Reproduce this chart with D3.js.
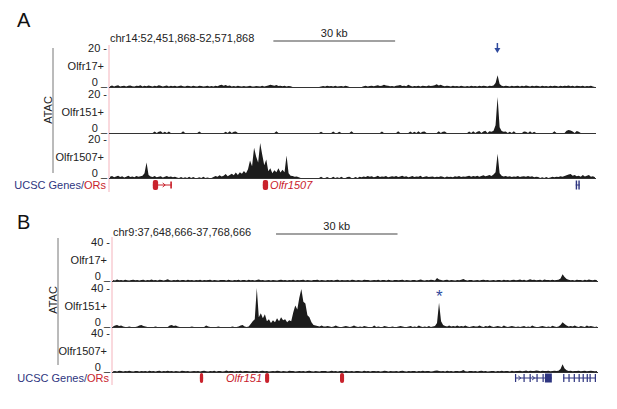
<!DOCTYPE html>
<html>
  <head>
    <meta charset="utf-8">
    <title></title>
  </head>
  <style>
    body{
      margin: 0;
      background-color: #fff;
      font-family: "Liberation Sans", Arial, sans-serif;
    }
    svg { display: block }
    .lbl { font-size: 11px; fill: #222 }
    .axisline { stroke: #333; stroke-width: 1 }
    .signal { fill: #1c1c1c }
  </style>
  <script src="https://d3js.org/d3.v7.min.js"></script>
  <body>
    <script>
    // ---- data: ATAC signal in 0.5 kb bins over a 120 kb window (one row = 10 kb) ----
    const trackNames = ["Olfr17+", "Olfr151+", "Olfr1507+"]

    const aOlfr17 = [
      0.4,0.8,0.3,0.6,0.9,0.2,0.5,0.7,0.3,0.6,0.8,0.4,0.2,0.7,0.5,0.9,0.3,0.6,0.4,0.8,
      0.5,0.3,0.7,0.4,0.9,0.6,0.2,0.5,0.8,0.3,0.6,0.4,0.7,0.3,0.5,0.8,0.4,0.2,0.6,0.5,
      0.3,0.7,0.4,0.2,0.6,0.5,0.3,0.4,0.7,0.2,0.5,0.3,0.6,0.4,0.9,1.2,0.7,1.0,0.5,0.8,
      0.3,0.5,0.2,0.6,0.4,0.3,0.5,0.2,0.4,0.6,0.3,0.2,0.5,0.4,0.3,0.6,0.2,0.5,0.8,1.2,
      0.9,0.6,1.0,0.5,0.7,0.4,0.6,0.3,0.5,0.4,0,0,0,0,0,0,0,0,0,0,
      0,0,0,0,0.3,0.5,0.2,0.6,0.4,0.5,0.3,0.6,0.2,0.4,0.5,0.3,0.6,0.4,0,0,
      0,0,0,0,0,0.4,0.6,0.3,0.5,0.7,0.4,0.6,0.9,0.5,0.7,1.2,0.8,0.6,0.4,0.5,
      0.3,0.6,0.8,1.0,0.5,0.7,0.4,1.1,0.6,0.3,0.5,0.4,0.7,0.3,0.6,0.5,0.4,0.8,0.5,0.6,
      0.9,1.4,0.8,1.2,0.6,0.4,0.7,0.5,0.3,0.6,0.4,0.5,0.3,0.6,0.4,0.2,0.5,0.3,0.6,0.4,
      0.5,0.3,0.6,0.4,0.7,0.5,0.3,0.6,0.5,0.8,2.0,6.0,1.5,0.6,0.4,0.7,0.5,0.3,0.6,0.4,
      0.5,0.7,0.3,0.6,0.4,0.8,0.5,0.3,0.6,0.4,0.7,0.5,0.3,0.6,0.4,0.5,0.3,0.7,0.4,0.6,
      0.5,0.3,0.6,0.4,0.7,0.5,0.8,0.4,0.6,0.3,0.7,0.5,0.4,0.6,0.3,0.5,0.4,0.6,0.3,0
    ]
    const aOlfr151 = [
      0,0,0,0,0,0,0,0,0,0,0,0,0,0,0,0,0,0,0,0,
      0,0,0.8,0,0.6,0.9,0,0.7,0,0.8,0,0,0,0,0,0,0.9,0,0,0,
      0,0,0,0,0.8,0,0,0,0,0,0,0,0,0,0,0,0,0.7,0,0.9,
      0,0.6,0.8,0,0,0,0,0,0,0,0,0,0,0,0,0,0,0,0,0,
      0,0,0.9,0,0,0,0,0,0,0,0,0,0,0,0,0,0,0,0,0,
      0,0,0,0,0.7,0,0,0,0,0,0.8,0,0,0.7,0,0,0,0,0,0.9,
      0,0,0,0,0,0,0,0,0,0,0,0,0,0,0.8,0,0,0,0,0,
      0,0,0.9,0,0,0,0,0,0.8,0,0.6,0,0.9,0,0.7,0.8,0,0,0,0,
      0,0,0.9,0,0.7,0.8,0,0,0,0,0,0,0,0,0,0,0,0.8,0,0.9,
      0,0.7,1.0,0,0.8,1.2,0,0.9,0.6,1.2,4.0,18.5,3.0,1.0,0.6,0.8,0,0.7,0,0.9,
      0,0,0,0,0.8,0.6,0,0.9,0,0.7,0,0,0,0,0,0,0,0,0,0.9,
      0,0,0,0,0,1.2,1.5,1.3,0.8,0,1.0,0.6,0,0,0,0,0,0,0,0
    ]
    const aOlfr1507 = [
      0.6,1.0,0.4,0.8,1.2,0.5,0.9,0.3,0.7,1.1,0.5,0.8,0.4,1.0,0.6,0.9,1.2,2.5,8.0,1.5,
      0.8,0.5,1.0,0.4,0.7,0.9,0.3,0.6,1.0,0.5,0.8,0.4,0.6,0.3,0,0.5,0,0.4,0,0.6,
      0,0.5,0,0,0.4,0,0.6,0,0.3,0,0,0.5,1.0,0.6,1.4,0.8,1.2,2.0,0.9,1.5,
      2.2,1.4,2.8,1.6,3.0,2.2,3.6,2.5,4.5,9.0,6.0,15.5,11.0,8.0,18.0,12.0,6.5,9.5,3.5,5.0,
      2.5,4.0,3.0,5.0,2.8,4.2,3.0,11.5,2.5,1.2,1.0,0.6,0.8,0.4,0,0,0,0,0,0,
      0,0,0,0,0.6,0,0,0.5,0,0,0.7,0,0.4,0,0.6,0,0,0.5,0.7,0,
      0,0.5,0,0.6,0.4,0.8,0.5,1.0,0.6,0.9,0.4,0.7,1.1,0.5,0.8,0.6,1.0,0.4,0.7,0.9,
      0.6,1.0,0.5,0.8,1.2,0.6,0.9,0.4,0.7,1.0,0.5,0.8,0.6,1.1,0.4,0.7,0.9,0.5,0.6,0.8,
      0.4,0.7,0.5,0.9,0.6,0.3,0.8,0.5,0.7,0.4,0.9,0.6,1.0,0.5,0.8,0.6,0.9,1.2,0.7,1.0,
      0.8,1.1,0.6,1.0,1.4,0.9,1.2,1.6,1.0,1.8,3.0,12.5,2.5,1.2,0.8,1.0,0.6,0.9,0.5,0.8,
      0.6,1.0,0.5,0.8,0.9,0.6,1.0,0.7,0.9,0.4,0.7,0.5,0,0.4,0,0.5,0,0.3,0.6,0.4,
      0.7,0.5,0.9,0.6,1.0,1.4,1.8,2.0,1.2,1.6,0.9,1.1,0.7,1.5,0.8,1.2,1.6,0.6,0.9,0.4
    ]

    const bOlfr17 = [
      1,0.5,1.5,0.8,1,0.6,1.2,0.8,0.5,1,1.4,0.7,1,0.5,0.9,1.2,0.6,1,0.8,1.5,
      0.7,1,0.5,1.2,0.9,0.6,1,1.8,0.8,0.5,1,0.7,1.2,0.6,0.9,1,0.5,1.3,0.8,1,
      0.6,1,0.8,1.2,0.5,1,0.7,0.9,1.4,0.6,1,0.8,0.5,1.1,0.9,1,0.6,1.2,0.8,0.5,
      1,0.7,1.3,0.6,0.9,1,0.5,1.2,0.8,1,0.6,0.9,1.5,0.7,1,0.5,0.8,1.1,0.6,1,
      0.8,0.5,1,1.2,0.7,0.9,0.6,1,0.8,1.4,0.5,1,0.7,0.9,1.2,0.6,1,0.8,0.5,1,
      0.9,1.3,0.6,1,0.8,0.5,1.1,0.7,1,0.6,0.9,1.2,0.5,1,0.8,0.7,1,0.6,1.3,0.9,
      0.5,1,0.8,0.6,1.2,0.9,1,0.5,0.8,1,0.7,1.4,0.6,0.9,1,0.5,1.2,0.8,0.6,1,
      1,0.7,0.9,1.3,0.6,1,0.8,0.5,1.1,0.9,0.6,1,1.6,0.8,0.5,1,0.7,1.2,0.9,0.6,
      3,1.5,1,0.6,0.9,1.2,0.5,1,0.8,0.6,1,0.7,1.2,2,1,0.6,0.9,1,0.5,0.8,
      1,0.6,0.9,1.2,0.7,1,0.5,0.8,1.1,0.6,1,0.9,0.5,1.2,0.8,1,0.6,0.9,1.3,0.7,
      1,1.5,0.8,1.2,0.6,1,1.8,0.9,1.4,0.7,1,1.2,0.6,1.5,0.9,1,0.7,1.2,0.8,1,
      1.2,2.5,7,4,2,1.2,0.8,1,0.6,1.3,0.9,1,0.6,1.4,0.8,1.5,1,0.7,1.2,0.8
    ]
    const bOlfr151 = [
      0.5,1.5,2,1,1.5,0.5,0,0,0.5,0,0,0,0.5,1.5,2,1,0.5,0,0,0,
      0,0.5,0,0,0,0,0,0,1.5,2,1,1.5,0.5,0,0,0,0,0,0,0.5,
      0,0,0,0,0,0,1.5,0.5,0,0,0,0,0.5,0,0,0,0,0,0,0.5,
      0,0,0.5,1.5,2,0.5,0,0.5,3,6,8,40,10,14,9,13,6,8,4,7,
      5,9,6,10,7,8,5,7,6,15,22,18,30,39,26,24,12,10,5,2,
      1.5,1,0.5,1.5,0.5,0.5,1,0.5,0,0.5,1.5,0.5,0,0,0.5,1,0.5,0,0.5,1.5,
      0.5,0,0.5,0,1,0.5,0,0,0,1.5,0,0.5,0,0,1,0.5,0,0,0.5,0,
      0,0.5,1,0.5,0,0,0.5,1,0,0.5,0,1.5,0.5,0,0.5,0,1,0,0.5,1,
      4,25,6,2,1,0.5,1.5,0.5,1,0.5,1.5,0.5,1,0.5,1.5,0.5,0,0.5,1,0.5,
      0.5,1.5,0.5,0,1,0.5,1.5,0.5,0,0.5,1,0.5,0,1.5,0.5,0,0.5,1,0.5,0,
      0.5,0,0.5,1,0,0.5,0,1.5,0.5,0,0,0.5,1,0.5,0,0.5,0,1.2,0.5,0,
      0.5,2,5,3,1.5,0.5,1,0.5,1.5,0.5,0,1,0.5,0,1.5,0.5,1,0.5,0,0.5
    ]
    const bOlfr1507 = [
      0.8,1,0.6,1.2,0.9,0.5,1,0.7,1.3,0.8,0.6,1,0.9,0.5,1.1,0.8,1,0.6,1.2,0.7,
      1,0.6,0.9,1.2,0.5,1,0.8,1.4,0.7,0.9,0.6,1,0.8,0.5,1.2,0.9,0.7,1,0.6,0.8,
      1.1,0.7,1,0.5,0.9,1.3,0.8,0.6,1,0.7,1.2,0.5,0.9,1,0.6,0.8,1.5,0.7,1,0.9,
      0.6,1,0.8,1.2,0.5,0.9,1,0.7,0.6,1.1,0.8,1,0.5,0.9,1.2,0.7,1,0.6,0.8,1,
      0.7,1.2,0.9,0.5,1,0.8,0.6,1.3,0.9,1,0.5,0.8,1.1,0.7,1,0.6,0.9,1.2,0.8,0.5,
      1,0.8,0.6,1.1,0.9,1,0.5,0.8,1.2,0.7,1,0.6,0.9,1,0.5,1.3,0.8,0.7,1,0.6,
      0.9,1,0.7,0.5,1.2,0.8,1,0.6,0.9,1.1,0.7,1,0.5,0.8,1.2,0.9,0.6,1,0.8,0.7,
      1,0.6,0.9,1.2,0.8,0.5,1,0.7,1.1,0.9,0.6,1,0.8,1.4,0.7,0.9,1,0.5,0.8,1.2,
      1.5,1,0.7,0.9,0.6,1.2,0.8,1,0.5,0.9,1.1,0.7,1,2,0.8,0.6,1,0.9,0.7,1,
      0.6,0.9,1.2,0.8,1,0.5,0.7,1.1,0.9,0.6,1,0.8,1.3,0.7,0.9,1,0.6,1.2,0.8,1,
      0.9,1.2,0.7,1,1.5,0.8,1.3,0.9,1,1.6,1.2,0.8,1.4,1,0.9,1.2,0.7,1.1,1.3,0.9,
      1.2,3,8,3.5,1.8,1,1.3,0.8,1.1,0.9,1.2,0.7,1,1.4,0.8,1,1.2,0.9,0.7,1
    ]

    const aTicks = ["20", "0"]
    const bTicks = ["40", "0"]

    // genes: kb start/end, exons [start, end, height], colour kind, label
    const aGenes = [
      {start: 10.8, end: 15.5, exons: [[10.8, 12.1, 10], [15.1, 15.5, 7]], kind: "or", strand: "+"},
      {start: 37.9, end: 39.2, exons: [[37.9, 39.2, 10]], kind: "or", label: "Olfr1507", side: "right"},
      {start: 115.0, end: 116.0, exons: [[115.0, 115.35, 9], [115.65, 116.0, 9]], kind: "ucsc"}
    ]
    const bGenes = [
      {start: 21.7, end: 22.5, exons: [[21.7, 22.5, 10]], kind: "or"},
      {start: 37.8, end: 38.8, exons: [[37.8, 38.8, 10]], kind: "or", label: "Olfr151", side: "left"},
      {start: 56.3, end: 57.3, exons: [[56.3, 57.3, 10]], kind: "or"},
      {start: 99.5, end: 108.6, exons: [[99.5, 99.8, 8], [101.6, 101.9, 8], [103.1, 103.4, 8], [104.8, 105.1, 8], [106.3, 106.6, 8], [106.9, 108.6, 9]], kind: "ucsc", strand: "+"},
      {start: 111.4, end: 119.5, exons: [[111.4, 111.7, 8], [112.7, 113.0, 8], [114.0, 114.3, 8], [115.2, 115.5, 8], [116.2, 116.5, 8], [117.2, 117.5, 8], [117.9, 118.2, 8], [119.2, 119.5, 8]], kind: "ucsc"}
    ]

    // ---- layout ----
    var W = 617, H = 409
    var red = "#c9222c", navy = "#2e3580", blue = "#2f4a9e"

    var svg = d3.select("body").append("svg")
                .attr("width", W)
                .attr("height", H)

    function panel(opt){
      var g = svg.append("g")
      var x = d3.scaleLinear().domain([0, 120]).range([opt.x0, opt.x1])

      g.append("text").text(opt.letter)
        .attr("x", opt.letterX).attr("y", opt.letterY)
        .attr("font-size", "20px").attr("fill", "#111")

      g.append("text").attr("class", "lbl").text(opt.coord)
        .attr("x", opt.x0 + 1).attr("y", opt.coordY)

      // 30 kb scale bar
      g.append("line")
        .attr("x1", x(40.5)).attr("x2", x(40.5 + 30))
        .attr("y1", opt.barY).attr("y2", opt.barY)
        .attr("stroke", "#444").attr("stroke-width", 1.2)
      g.append("text").attr("class", "lbl").text("30 kb")
        .attr("x", x(55.5)).attr("y", opt.barY - 4)
        .attr("text-anchor", "middle")

      // pink left border of tracks
      g.append("line")
        .attr("x1", opt.x0).attr("x2", opt.x0)
        .attr("y1", opt.pink[0]).attr("y2", opt.pink[1])
        .attr("stroke", "#f4b3bc").attr("stroke-width", 1)

      // ATAC label + bracket line
      g.append("line")
        .attr("x1", opt.atacLineX).attr("x2", opt.atacLineX)
        .attr("y1", opt.atacLine[0]).attr("y2", opt.atacLine[1])
        .attr("stroke", "#777").attr("stroke-width", 1)
      g.append("text").attr("class", "lbl").text("ATAC")
        .attr("transform", "translate(" + opt.atacX + "," + opt.atacY + ") rotate(-90)")
        .attr("text-anchor", "middle")

      opt.tracks.forEach(function(vals, k){
        var base = opt.bases[k]
        var y = d3.scaleLinear().domain([0, opt.ymax]).range([base, base - opt.th])
        var bx = d3.scaleLinear().domain([0, vals.length]).range([opt.x0, opt.x1])

        var area = d3.area()
            .x(function(d, i){ return bx(i + 0.5) })
            .y0(y(0))
            .y1(function(d){ return y(d) })
        g.append("path").datum(vals)
          .attr("class", "signal")
          .attr("d", area)

        g.append("line").attr("class", "axisline")
          .attr("x1", opt.x0).attr("x2", opt.x1)
          .attr("y1", base + 0.5).attr("y2", base + 0.5)

        g.append("text").attr("class", "lbl").text(opt.ticks[0] + " -")
          .attr("x", opt.x0 - 2).attr("y", y(opt.ymax) + 4)
          .attr("text-anchor", "end")
        g.append("text").attr("class", "lbl").text(opt.ticks[1] + " _")
          .attr("x", opt.x0 - 2).attr("y", base - 1)
          .attr("text-anchor", "end")
        g.append("text").attr("class", "lbl").text(trackNames[k])
          .attr("x", opt.x0 - 5).attr("y", y(opt.ymax * 0.5) + 2)
          .attr("text-anchor", "end")
      })

      // gene track
      var lab = g.append("text").attr("class", "lbl")
        .attr("x", opt.x0 - 3).attr("y", opt.geneY + 4)
        .attr("text-anchor", "end")
        .attr("font-size", opt.geneFont)
      lab.append("tspan").attr("fill", navy).text("UCSC Genes/")
      lab.append("tspan").attr("fill", red).text("ORs")

      var gg = g.append("g").selectAll("g")
        .data(opt.genes).enter().append("g")
      gg.each(function(d){
        var s = d3.select(this)
        var c = d.kind == "or" ? red : navy
        s.append("line")
          .attr("x1", x(d.start)).attr("x2", x(d.end))
          .attr("y1", opt.geneY).attr("y2", opt.geneY)
          .attr("stroke", c).attr("stroke-width", 1)
        // small strand chevrons on the introns
        if (d.strand) {
          for (var e = 0; e < d.exons.length - 1; e++) {
            var a0 = x(d.exons[e][1]), a1 = x(d.exons[e + 1][0])
            if (a1 - a0 < 5) continue
            var cx = (a0 + a1) / 2
            s.append("path")
              .attr("d", "M" + (cx - 1.5) + "," + (opt.geneY - 2) + " L" + (cx + 1) + "," + opt.geneY + " L" + (cx - 1.5) + "," + (opt.geneY + 2))
              .attr("fill", "none").attr("stroke", c).attr("stroke-width", 1)
          }
        }
        s.selectAll("rect").data(d.exons).enter().append("rect")
          .attr("x", function(e){ return x(e[0]) })
          .attr("width", function(e){ return Math.max(1, x(e[1]) - x(e[0])) })
          .attr("y", function(e){ return opt.geneY - e[2] / 2 })
          .attr("height", function(e){ return e[2] })
          .attr("rx", function(e){ return e[2] >= 10 ? 2 : 0 })
          .attr("fill", c)
        if (d.label) {
          s.append("text").text(d.label)
            .attr("x", d.side == "right" ? x(d.end) + 2 : x(d.start) - 3)
            .attr("y", opt.geneY + 4)
            .attr("text-anchor", d.side == "right" ? "start" : "end")
            .attr("font-size", "11px").attr("font-style", "italic")
            .attr("fill", red)
        }
      })
      return x
    }

    var xa = panel({
      letter: "A", letterX: 17, letterY: 27,
      coord: "chr14:52,451,868-52,571,868", coordY: 42, barY: 41,
      x0: 109, x1: 596, bases: [87, 133, 178], th: 39, ymax: 20, ticks: aTicks,
      tracks: [aOlfr17, aOlfr151, aOlfr1507],
      pink: [45, 192], atacLineX: 53, atacLine: [48, 173], atacX: 52, atacY: 110,
      geneY: 185, geneFont: "12.8px", genes: aGenes
    })

    var xb = panel({
      letter: "B", letterX: 17, letterY: 229,
      coord: "chr9:37,648,666-37,768,666", coordY: 236, barY: 234,
      x0: 112, x1: 598, bases: [281, 327, 372], th: 39, ymax: 40, ticks: bTicks,
      tracks: [bOlfr17, bOlfr151, bOlfr1507],
      pink: [237, 385], atacLineX: 58, atacLine: [238, 365], atacX: 57, atacY: 300,
      geneY: 378, geneFont: "11px", genes: bGenes
    })

    // marker arrow over the shared peak in A
    var ax = xa(95.7)
    svg.append("line")
      .attr("x1", ax).attr("x2", ax).attr("y1", 43).attr("y2", 49)
      .attr("stroke", blue).attr("stroke-width", 1.5)
    svg.append("path")
      .attr("d", "M" + (ax - 3) + ",48 L" + (ax + 3) + ",48 L" + ax + ",53 Z")
      .attr("fill", blue)

    // asterisk over Olfr151 peak in B
    svg.append("text").text("*")
      .attr("x", xb(80.8)).attr("y", 302)
      .attr("text-anchor", "middle")
      .attr("font-size", "17px").attr("fill", blue)
    </script>
  </body>
</html>
